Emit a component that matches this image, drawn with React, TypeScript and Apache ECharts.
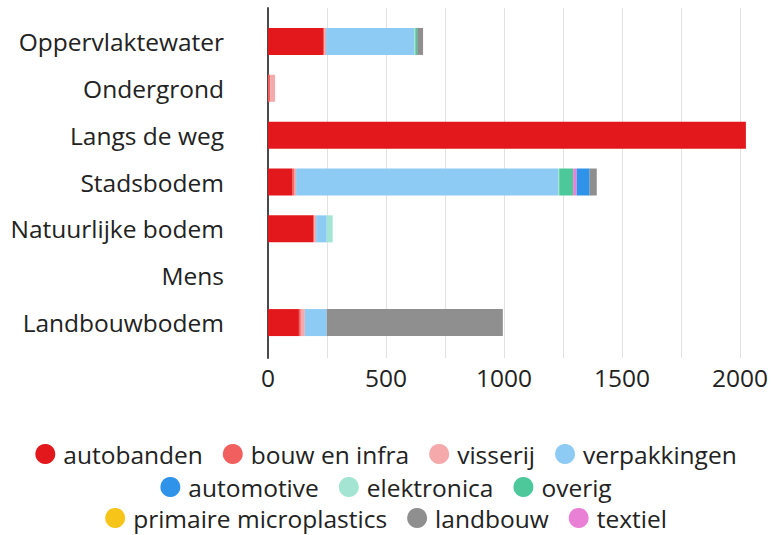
import React, { useEffect, useRef } from "react";
import * as echarts from "echarts";

const categories = [
  "Oppervlaktewater",
  "Ondergrond",
  "Langs de weg",
  "Stadsbodem",
  "Natuurlijke bodem",
  "Mens",
  "Landbouwbodem",
];

const autobanden = [233, 0, 2025, 102, 191, 0, 131];
const bouwEnInfra = [5, 10, 0, 8, 5, 0, 8];
const visserij = [8, 20, 0, 9, 8, 0, 17];
const verpakkingen = [373, 0, 0, 1110, 45, 0, 93];
const elektronica = [5, 0, 0, 5, 25, 0, 0];
const overig = [8, 0, 0, 59, 0, 0, 0];
const textiel = [0, 0, 0, 15, 0, 0, 0];
const automotive = [0, 0, 0, 55, 0, 0, 0];
const primaireMicroplastics = [0, 0, 0, 0, 0, 0, 0];
const landbouw = [25, 0, 0, 30, 0, 0, 746];

const xTicks = [0, 500, 1000, 1500, 2000];

const legendRow1 = ["autobanden", "bouw en infra", "visserij", "verpakkingen"];
const legendRow2 = ["automotive", "elektronica", "overig"];
const legendRow3 = ["primaire microplastics", "landbouw", "textiel"];

const seriesDefs = [
  { name: "autobanden", data: autobanden, color: "#e3181d" },
  { name: "bouw en infra", data: bouwEnInfra, color: "#f25f5f" },
  { name: "visserij", data: visserij, color: "#f5a9ab" },
  { name: "verpakkingen", data: verpakkingen, color: "#8dcbf5" },
  { name: "elektronica", data: elektronica, color: "#a3e4d2" },
  { name: "overig", data: overig, color: "#4dc89b" },
  { name: "textiel", data: textiel, color: "#ea80d6" },
  { name: "automotive", data: automotive, color: "#2f93ea" },
  { name: "primaire microplastics", data: primaireMicroplastics, color: "#f7c419" },
  { name: "landbouw", data: landbouw, color: "#8f8f8f" },
];

const FONT = "'Open Sans', sans-serif";
const FS = 24.5;

export default function App() {
  const ref = useRef<HTMLDivElement>(null);

  useEffect(() => {
    document.body.style.margin = "0";
    const chart = echarts.init(ref.current!, undefined, { renderer: "svg" });

    const legendCommon = {
      left: "center",
      icon: "circle",
      itemWidth: 20,
      itemHeight: 20,
      itemGap: 20,
      padding: 0,
      textStyle: {
        fontSize: FS,
        color: "#222",
        fontFamily: FONT,
        lineHeight: 26,
        padding: [0, 0, 0, 3],
      },
    };

    chart.setOption({
      animation: false,
      textStyle: { fontFamily: FONT },
      grid: [
        { left: 268, top: 8, width: 472, height: 350 },
        { left: 268, top: 18, width: 472, height: 328 },
      ],
      xAxis: [
        {
          type: "value",
          gridIndex: 0,
          min: 0,
          max: 2000,
          interval: 250,
          axisLine: { show: false },
          axisTick: { show: false },
          splitLine: { show: true, lineStyle: { color: "#e2e2e2", width: 1 } },
          axisLabel: {
            fontSize: FS,
            color: "#222",
            margin: 7,
            formatter: (v: number) => (xTicks.includes(v) ? String(v) : ""),
          },
        },
        {
          type: "value",
          gridIndex: 1,
          min: 0,
          max: 2000,
          show: false,
        },
      ],
      yAxis: [
        {
          type: "category",
          gridIndex: 0,
          data: categories,
          axisLine: { show: true, lineStyle: { color: "#4a4a4a", width: 2 } },
          axisTick: { show: false },
          axisLabel: { show: false },
          splitLine: { show: false },
        },
        {
          type: "category",
          gridIndex: 1,
          data: categories,
          inverse: true,
          axisLine: { show: false },
          axisTick: { show: false },
          axisLabel: { fontSize: FS, color: "#222", margin: 44 },
        },
      ],
      legend: [
        { ...legendCommon, top: 441, data: legendRow1 },
        { ...legendCommon, top: 474, data: legendRow2 },
        { ...legendCommon, top: 505, data: legendRow3 },
      ],
      series: seriesDefs.map((s) => ({
        name: s.name,
        type: "bar",
        stack: "total",
        xAxisIndex: 1,
        yAxisIndex: 1,
        barWidth: 27,
        clip: false,
        itemStyle: { color: s.color },
        data: s.data,
      })),
    });

    return () => chart.dispose();
  }, []);

  return <div ref={ref} style={{ width: 772, height: 535 }} />;
}
